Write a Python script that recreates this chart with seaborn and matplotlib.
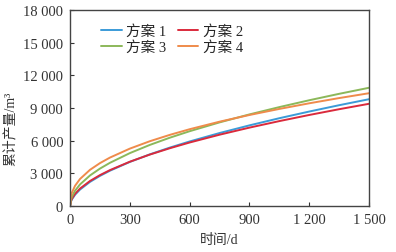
import pandas as pd
import matplotlib.pyplot as plt
import seaborn as sns

sns.set_style("ticks")
plt.rcParams['font.family'] = ['Liberation Serif', 'Noto Sans CJK SC']
plt.rcParams['axes.unicode_minus'] = False

# 时间 (d)
days = [0, 5, 10, 25, 50, 100, 150, 200, 300, 400, 500, 600, 750, 900, 1050, 1200, 1350, 1500]

# 累计产量 (m3)
plan1 = [0, 426, 623, 1031, 1509, 2211, 2762, 3236, 4044, 4736, 5355, 5921, 6695, 7399, 8056, 8668, 9250, 9800]
plan2 = [0, 483, 692, 1116, 1600, 2294, 2832, 3290, 4063, 4717, 5297, 5826, 6542, 7192, 7791, 8353, 8882, 9380]
plan3 = [0, 626, 886, 1401, 1981, 2802, 3431, 3962, 4853, 5603, 6264, 6862, 7672, 8405, 9076, 9705, 10295, 10850]
plan4 = [0, 943, 1262, 1855, 2481, 3319, 3935, 4441, 5265, 5942, 6524, 7045, 7737, 8351, 8908, 9425, 9904, 10350]

names = ['方案 1', '方案 2', '方案 3', '方案 4']
colors = ['#3b9bd8', '#da2a3c', '#8cb85a', '#ef8b4b']

df = pd.DataFrame({
    'day': days * 4,
    'q': plan1 + plan2 + plan3 + plan4,
    'plan': [n for n in names for _ in days],
})

fig = plt.figure(figsize=(3.96, 2.53), dpi=100)
ax = fig.add_axes([0.177, 0.182, 0.755, 0.775])

sns.lineplot(data=df, x='day', y='q', hue='plan', palette=colors, linewidth=1.4, ax=ax)

ax.set_xlim(0, 1500)
ax.set_ylim(0, 18000)
xt = [0, 300, 600, 900, 1200, 1500]
yt = [0, 3000, 6000, 9000, 12000, 15000, 18000]
ax.set_xticks(xt)
ax.set_yticks(yt)
ax.set_xticklabels(['0', '300', '600', '900', '1 200', '1 500'])
ax.set_yticklabels(['0', '3 000', '6 000', '9 000', '12 000', '15 000', '18 000'])
ax.tick_params(direction='in', length=3, width=0.8, labelsize=10.5, colors='#333333', pad=5)
for s in ax.spines.values():
    s.set_linewidth(1.0)
    s.set_color('#444444')

ax.set_xlabel('时间/d', fontsize=10, labelpad=5, color='#333333')
ax.set_ylabel('累计产量/m³', fontsize=10, color='#333333')
ax.yaxis.set_label_coords(-0.18, 0.4)

# row-wise legend order: 1 2 / 3 4
h, l = ax.get_legend_handles_labels()
order = [0, 2, 1, 3]
ax.legend([h[i] for i in order], [l[i] for i in order], ncol=2, loc='upper left',
          frameon=False, fontsize=10.5, handlelength=1.4, handletextpad=0.3,
          columnspacing=0.8, labelspacing=0.15, bbox_to_anchor=(0.06, 0.995))

fig.savefig('out.png', dpi=100)
